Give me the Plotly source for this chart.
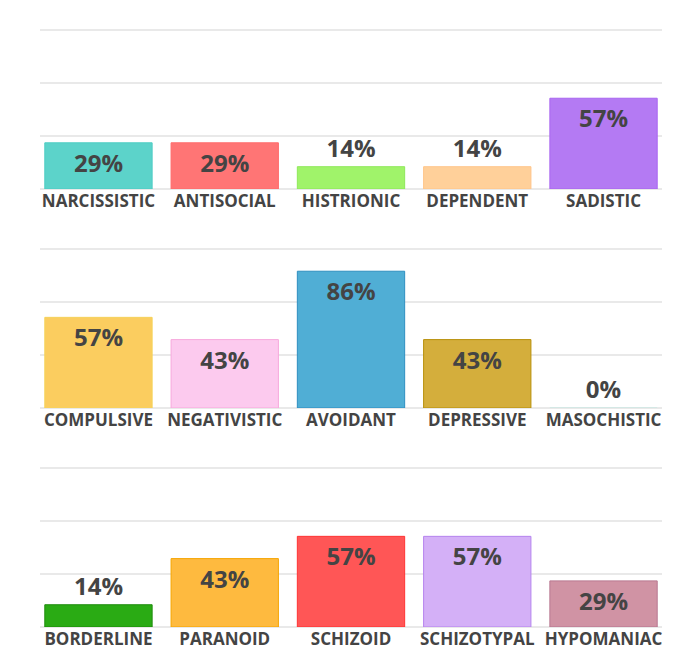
import plotly.graph_objects as go
from plotly.subplots import make_subplots

cats1 = ["NARCISSISTIC", "ANTISOCIAL", "HISTRIONIC", "DEPENDENT", "SADISTIC"]
vals1 = [29, 29, 14, 14, 57]
cols1 = ["#5cd3ca", "#ff7575", "#a0f36a", "#ffd09a", "#b47af3"]
edge1 = ["#4ecdc4", "#ff6b6b", "#8fe85a", "#ffc58a", "#a865f0"]

cats2 = ["COMPULSIVE", "NEGATIVISTIC", "AVOIDANT", "DEPRESSIVE", "MASOCHISTIC"]
vals2 = [57, 43, 86, 43, 0]
cols2 = ["#fbcd5f", "#fccaee", "#50aed5", "#d4ae3c", "#e8f4f2"]
edge2 = ["#f5d35a", "#f7a8dc", "#2e8fc0", "#b8900a", "#cfe8e4"]

cats3 = ["BORDERLINE", "PARANOID", "SCHIZOID", "SCHIZOTYPAL", "HYPOMANIAC"]
vals3 = [14, 43, 57, 57, 29]
cols3 = ["#2aab14", "#feba3f", "#ff5656", "#d4b0f7", "#d093a4"]
edge3 = ["#1e8c0c", "#f5a500", "#ff3333", "#b584ee", "#b87890"]

grid_vals = [0, 33.333, 66.667, 100]

panels = [(cats1, vals1, cols1, edge1), (cats2, vals2, cols2, edge2), (cats3, vals3, cols3, edge3)]

fig = make_subplots(rows=3, cols=1, vertical_spacing=0.09)

for i, (cats, vals, cols, edges) in enumerate(panels, start=1):
    fig.add_trace(go.Bar(
        x=cats, y=vals,
        marker=dict(color=cols, line=dict(color=edges, width=1)),
        width=0.85,
        text=[f"{v}%" for v in vals],
        textposition=["inside" if v >= 25 else "outside" for v in vals],
        insidetextanchor="end",
        textfont=dict(family="Open Sans", size=24, color="#444444", weight="bold"),
        cliponaxis=False,
        hoverinfo="skip",
        showlegend=False,
    ), row=i, col=1)
    fig.update_xaxes(range=[-0.463, 4.463], showgrid=False, showline=False, ticks="",
                     automargin=False,
                     tickfont=dict(family="Open Sans", size=17, color="#444444", weight="bold"),
                     row=i, col=1)
    fig.update_yaxes(range=[0, 103], tickvals=grid_vals, showticklabels=False,
                     automargin=False,
                     showgrid=True, gridcolor="#e9e9e9", gridwidth=1.5,
                     zeroline=True, zerolinecolor="#e9e9e9", zerolinewidth=1.5,
                     row=i, col=1)

fig.update_layout(
    width=678, height=644,
    margin=dict(l=32, r=24, t=17, b=25),
    paper_bgcolor="white", plot_bgcolor="white",
    font=dict(family="Open Sans", color="#444444"),
    uniformtext=dict(minsize=24, mode="show"),
    bargap=0.15,
)
fig.update_layout(
    yaxis=dict(domain=[0.7276, 1.0]),
    yaxis2=dict(domain=[0.3638, 0.6359]),
    yaxis3=dict(domain=[0.0, 0.2721]),
)

fig.write_html("out.html")
